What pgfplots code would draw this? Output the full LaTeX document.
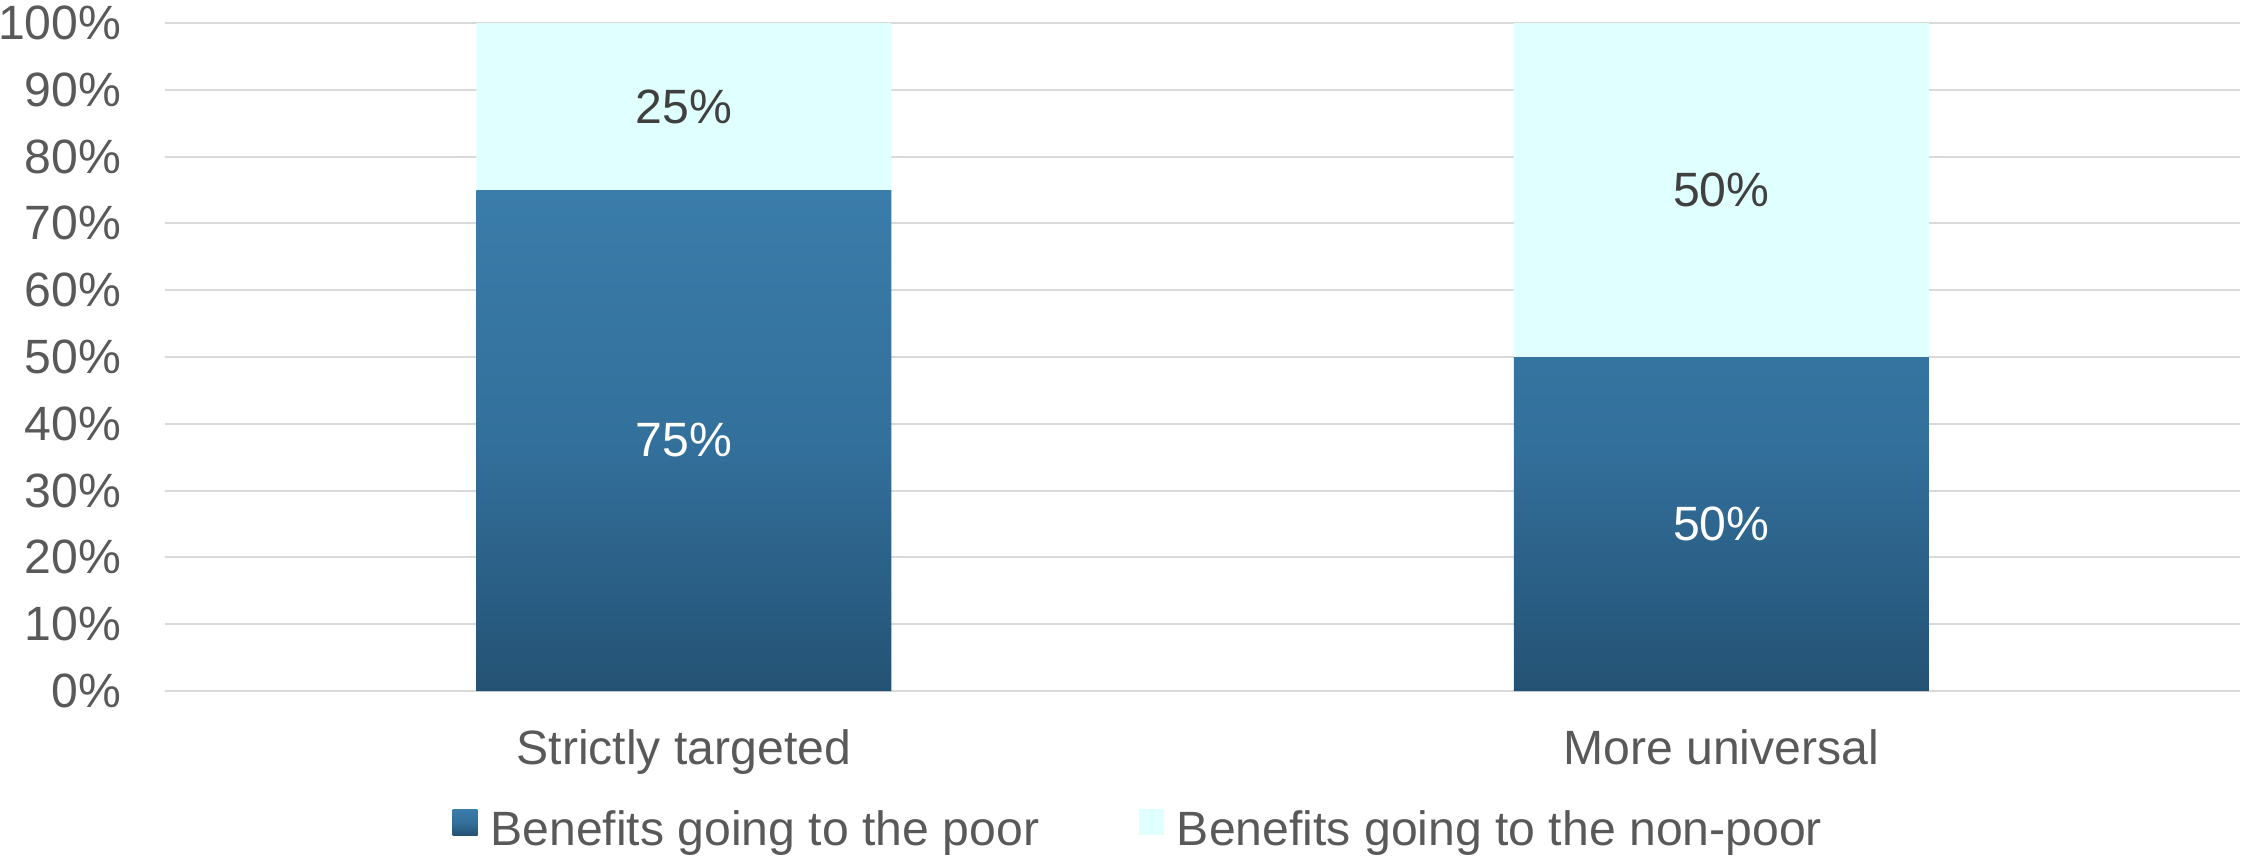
\documentclass[border=0pt]{standalone}
\usepackage{pgfplots}
\pgfplotsset{compat=1.18}
\usepackage{pgfplotstable}
\usepackage{fontspec}
\setmainfont{Liberation Sans}
\definecolor{poortop}{HTML}{3A7CAA}
\definecolor{poormid}{HTML}{33709C}
\definecolor{poorbot}{HTML}{245274}
\definecolor{nonpoor}{HTML}{E0FFFF}
\definecolor{gridc}{HTML}{D9D9D9}
\definecolor{txt}{HTML}{595959}
\definecolor{lab}{HTML}{404040}
\newcommand{\chartfont}{\fontsize{13.7}{16}\selectfont}
\pgfplotsset{
  squarelegend/.style={legend image code/.code={%
    \path[##1, draw=none] (0mm,-0.4mm) rectangle (2.5mm,2.2mm);
    \path (0mm,0mm) -- (3.07mm,0mm);}},
}
\pgfplotstableread{
x poor nonpoor
0 75 25
1 50 50
}\bars
\pgfplotstableread{
x y v
0 37.5 75
1 25 50
}\darklabels
\pgfplotstableread{
x y v
0 87.5 25
1 75 50
}\lightlabels
\begin{document}
\begin{tikzpicture}
\useasboundingbox (-16.5mm,-16.5mm) rectangle (207.9mm,69.1mm);
\begin{axis}[
  at={(0,0)}, anchor=south west,
  scale only axis, width=207.5mm, height=66.8mm,
  ybar stacked, bar width=0.4,
  xmin=-0.5, xmax=1.5, ymin=0, ymax=100,
  enlargelimits=false,
  axis line style={draw=none},
  major tick length=0pt,
  ymajorgrids, grid style={gridc, line width=0.2mm},
  ytick={0,10,...,100},
  yticklabels={0\%,10\%,20\%,30\%,40\%,50\%,60\%,70\%,80\%,90\%,100\%},
  yticklabel style={anchor=east, inner sep=0pt, xshift=-4.3mm, text=txt, font=\chartfont},
  xtick={0,1},
  xticklabels={Strictly targeted, More universal},
  xticklabel style={anchor=base, inner sep=0pt, yshift=-7.3mm, text=txt, font=\chartfont},
  legend columns=2,
  legend cell align=left,
  legend style={draw=none, fill=none, at={(axis description cs:0.1383,-0.2096)}, anchor=west,
    font=\chartfont, text=txt, inner sep=0pt,
    /tikz/every even column/.append style={column sep=9.3mm}},
]
\addplot[draw=none, top color=poortop, bottom color=poorbot, middle color=poormid, squarelegend]
  table[x=x, y=poor]{\bars};
\addlegendentry{Benefits going to the poor}
\addplot[draw=none, fill=nonpoor, squarelegend]
  table[x=x, y=nonpoor]{\bars};
\addlegendentry{Benefits going to the non-poor}
\end{axis}
\begin{axis}[
  at={(0,0)}, anchor=south west,
  scale only axis, width=207.5mm, height=66.8mm,
  xmin=-0.5, xmax=1.5, ymin=0, ymax=100,
  hide axis, clip=false,
  /pgf/number format/assume math mode=true,
]
\addplot[draw=none, mark=none, point meta=explicit,
  nodes near coords={\pgfmathprintnumber{\pgfplotspointmeta}\%},
  every node near coord/.append style={anchor=center, text=white, font=\chartfont}]
  table[x=x, y=y, meta=v]{\darklabels};
\addplot[draw=none, mark=none, point meta=explicit,
  nodes near coords={\pgfmathprintnumber{\pgfplotspointmeta}\%},
  every node near coord/.append style={anchor=center, text=lab, font=\chartfont}]
  table[x=x, y=y, meta=v]{\lightlabels};
\end{axis}
\end{tikzpicture}
\end{document}
